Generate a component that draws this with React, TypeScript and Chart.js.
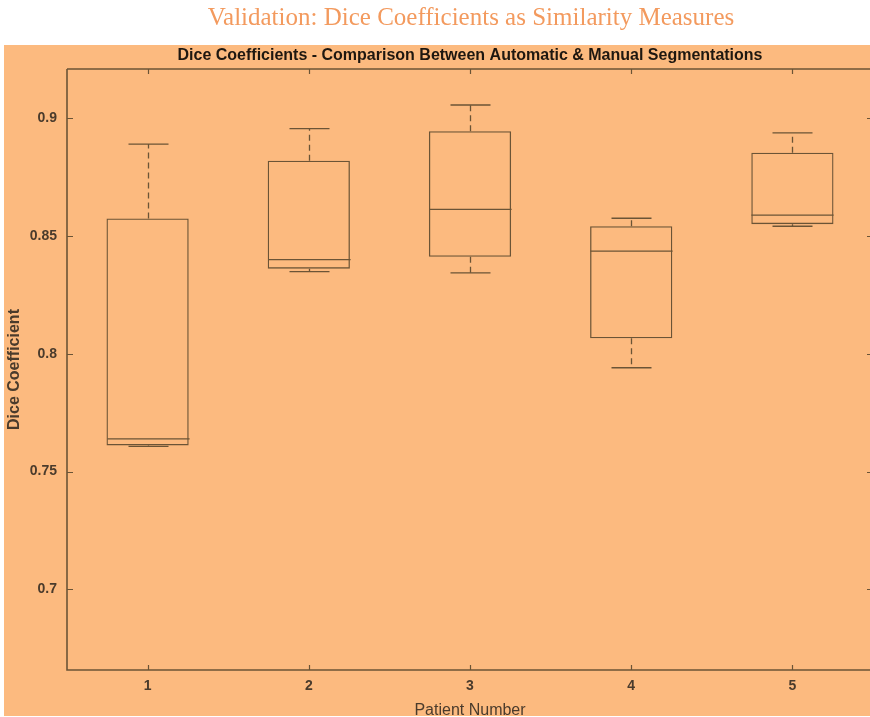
import React, { useEffect, useRef } from "react";
import { Chart, registerables } from "chart.js";

Chart.register(...registerables);

// ---- data ----
const patients = ["1", "2", "3", "4", "5"];
const whiskerHigh = [0.8891, 0.8957, 0.9057, 0.8576, 0.8939];
const q3 = [0.8575, 0.882, 0.8946, 0.8542, 0.8854];
const median = [0.7639, 0.84, 0.8614, 0.8436, 0.8589];
const q1 = [0.7611, 0.8362, 0.8412, 0.8066, 0.8551];
const whiskerLow = [0.7607, 0.8349, 0.8344, 0.7941, 0.8542];
const yTicks = [0.7, 0.75, 0.8, 0.85, 0.9];
const yMin = 0.6657;
const yMax = 0.921;
const pageTitle = "Validation: Dice Coefficients as Similarity Measures";
const chartTitle = "Dice Coefficients - Comparison Between Automatic & Manual Segmentations";
const xTitle = "Patient Number";
const yTitle = "Dice Coefficient";

// ---- styles ----
const W = 870;
const H = 717;
const CW = 876; // canvas slightly wider; plot's right border falls just outside the view
const BG = "#FCBA7F";
const LINE = "#6B5436";
const TEXT = "#4A3B2C";
const TITLE_ORANGE = "#F39A5E";
const SANS = "'Liberation Sans', Arial, sans-serif";
const SERIF = "'Liberation Serif', 'Times New Roman', serif";

const backgroundPlugin = {
  id: "bgPanel",
  beforeDraw(chart: any) {
    const ctx = chart.ctx;
    ctx.save();
    ctx.fillStyle = "#FFFFFF";
    ctx.fillRect(0, 0, CW, H);
    ctx.fillStyle = BG;
    ctx.fillRect(4, 45, W - 4, H - 46);
    // page title
    ctx.fillStyle = TITLE_ORANGE;
    ctx.font = `25px ${SERIF}`;
    ctx.textAlign = "center";
    ctx.textBaseline = "middle";
    const cx = (chart.chartArea.left + chart.chartArea.right) / 2;
    ctx.fillText(pageTitle, cx + 1, 18);
    // chart title
    ctx.fillStyle = "#1E1710";
    ctx.font = `bold 16px ${SANS}`;
    ctx.fillText(chartTitle, cx, 56);
    ctx.restore();
  },
};

const framePlugin = {
  id: "axesFrame",
  afterDraw(chart: any) {
    const ctx = chart.ctx;
    const { left, right, top, bottom } = chart.chartArea;
    const x = chart.scales.x;
    const y = chart.scales.y;
    ctx.save();
    ctx.strokeStyle = LINE;
    ctx.lineWidth = 1.6;
    ctx.beginPath();
    ctx.moveTo(left, top);
    ctx.lineTo(right, top);
    ctx.moveTo(left, top);
    ctx.lineTo(left, bottom);
    ctx.lineTo(right, bottom);
    ctx.moveTo(right, top);
    ctx.lineTo(right, bottom);
    ctx.stroke();
    ctx.lineWidth = 1.2;
    ctx.beginPath();
    yTicks.forEach((v) => {
      const py = Math.round(y.getPixelForValue(v)) + 0.5;
      ctx.moveTo(left, py);
      ctx.lineTo(left + 6, py);
      ctx.moveTo(right, py);
      ctx.lineTo(right - 6, py);
    });
    patients.forEach((_, i) => {
      const px = Math.round(x.getPixelForValue(i)) + 0.5;
      ctx.moveTo(px, bottom);
      ctx.lineTo(px, bottom - 5);
      ctx.moveTo(px, top);
      ctx.lineTo(px, top + 5);
    });
    ctx.stroke();
    ctx.restore();
  },
};

const boxPlugin = {
  id: "boxParts",
  afterDatasetsDraw(chart: any) {
    const ctx = chart.ctx;
    const y = chart.scales.y;
    const meta = chart.getDatasetMeta(0);
    ctx.save();
    ctx.strokeStyle = LINE;
    ctx.lineWidth = 1.3;
    patients.forEach((_, i) => {
      const bar = meta.data[i];
      const cx = Math.round(bar.x) + 0.5;
      const half = bar.width / 2;
      const capHalf = 20;
      const pMed = y.getPixelForValue(median[i]);
      const pQ3 = y.getPixelForValue(q3[i]);
      const pQ1 = y.getPixelForValue(q1[i]);
      const pHi = y.getPixelForValue(whiskerHigh[i]);
      const pLo = y.getPixelForValue(whiskerLow[i]);
      ctx.setLineDash([]);
      ctx.beginPath();
      ctx.moveTo(cx - half, pMed);
      ctx.lineTo(cx + half, pMed);
      ctx.moveTo(cx - capHalf, pHi);
      ctx.lineTo(cx + capHalf, pHi);
      ctx.moveTo(cx - capHalf, pLo);
      ctx.lineTo(cx + capHalf, pLo);
      ctx.stroke();
      ctx.setLineDash([6, 4]);
      ctx.beginPath();
      ctx.moveTo(cx, pQ3);
      ctx.lineTo(cx, pHi);
      ctx.moveTo(cx, pQ1);
      ctx.lineTo(cx, pLo);
      ctx.stroke();
    });
    ctx.restore();
  },
};

export default function App() {
  const ref = useRef<HTMLCanvasElement | null>(null);

  useEffect(() => {
    if (!ref.current) return;
    const chart = new Chart(ref.current, {
      type: "bar",
      data: {
        labels: patients,
        datasets: [
          {
            label: "Dice",
            data: patients.map((_, i) => [q1[i], q3[i]]) as any,
            backgroundColor: "rgba(0,0,0,0)",
            borderColor: LINE,
            borderWidth: 1.3,
            borderSkipped: false,
            barPercentage: 0.51,
            categoryPercentage: 1,
          },
        ],
      },
      options: {
        animation: false,
        responsive: false,
        devicePixelRatio: 1,
        layout: { padding: { left: 0, top: 69, right: 3, bottom: 0 } },
        plugins: {
          legend: { display: false },
          tooltip: { enabled: false },
          title: { display: false },
        },
        scales: {
          x: {
            type: "category",
            offset: true,
            grid: { display: false, drawTicks: false },
            border: { display: false },
            ticks: {
              padding: 8,
              color: TEXT,
              font: { family: SANS, size: 14, weight: "bold" },
              maxRotation: 0,
            },
            title: {
              display: true,
              text: xTitle,
              color: TEXT,
              font: { family: SANS, size: 16 },
              padding: { top: 0, bottom: -3 },
            },
            afterFit: (s: any) => {
              s.height = 47;
            },
          },
          y: {
            type: "linear",
            min: yMin,
            max: yMax,
            grid: { display: false, drawTicks: false },
            border: { display: false },
            afterBuildTicks: (s: any) => {
              s.ticks = yTicks.map((v) => ({ value: v }));
            },
            ticks: {
              padding: 10,
              color: TEXT,
              font: { family: SANS, size: 14, weight: "bold" },
              callback: (v: any) => String(+Number(v).toFixed(2)),
            },
            title: {
              display: true,
              text: yTitle,
              color: TEXT,
              font: { family: SANS, size: 16, weight: "bold" },
              padding: { top: 5, bottom: 0 },
            },
            afterFit: (s: any) => {
              s.width = 67;
            },
          },
        },
      },
      plugins: [backgroundPlugin, boxPlugin, framePlugin],
    });
    return () => chart.destroy();
  }, []);

  return (
    <div style={{ position: "absolute", left: 0, top: 0, width: W, height: H, overflow: "hidden" }}>
      <canvas ref={ref} width={CW} height={H} style={{ display: "block" }} />
    </div>
  );
}
